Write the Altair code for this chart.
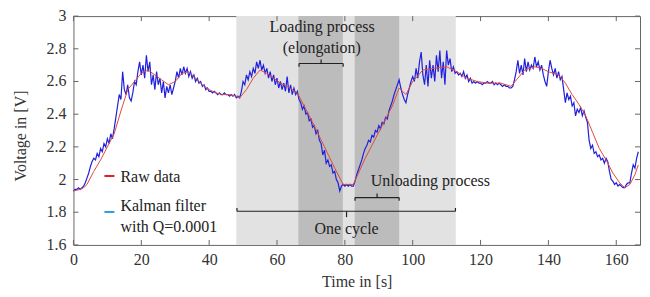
import altair as alt
import pandas as pd

# ---------------- data ----------------
# noisy (blue) trace, sampled every 0.5 s from t = 0 to 166.5 s
blue_step = 0.5
blue_v = [
    1.93, 1.94, 1.94, 1.95, 1.94, 1.95, 1.96, 1.98, 2.01, 2.04,
    2.08, 2.11, 2.13, 2.12, 2.16, 2.14, 2.19, 2.17, 2.22, 2.20,
    2.25, 2.22, 2.28, 2.25, 2.31, 2.38, 2.45, 2.52, 2.49, 2.66,
    2.55, 2.52, 2.58, 2.50, 2.48, 2.53, 2.60, 2.58, 2.66, 2.72,
    2.64, 2.70, 2.62, 2.76, 2.66, 2.72, 2.58, 2.64, 2.55, 2.66,
    2.58, 2.62, 2.53, 2.60, 2.50, 2.57, 2.53, 2.58, 2.52, 2.56,
    2.60, 2.66, 2.62, 2.68, 2.64, 2.69, 2.65, 2.68, 2.63, 2.66,
    2.62, 2.64, 2.60, 2.62, 2.59, 2.60, 2.57, 2.58, 2.55, 2.56,
    2.54, 2.54, 2.53, 2.54, 2.53, 2.52, 2.53, 2.52, 2.52, 2.53,
    2.52, 2.52, 2.51, 2.52, 2.51, 2.52, 2.50, 2.51, 2.50, 2.54,
    2.60, 2.58, 2.64, 2.61, 2.66, 2.63, 2.68, 2.65, 2.72, 2.68,
    2.73, 2.67, 2.70, 2.65, 2.68, 2.62, 2.66, 2.60, 2.64, 2.58,
    2.62, 2.56, 2.60, 2.55, 2.59, 2.54, 2.63, 2.53, 2.58, 2.52,
    2.56, 2.52, 2.54, 2.49, 2.47, 2.43, 2.45, 2.40, 2.41, 2.36,
    2.37, 2.32, 2.33, 2.28, 2.30, 2.24, 2.22, 2.15, 2.18, 2.10,
    2.12, 2.08, 2.09, 2.04, 2.05, 2.00, 1.98, 1.93, 1.96, 1.97,
    1.96, 1.97, 1.96, 1.97, 1.96, 1.96, 1.99, 2.03, 2.06, 2.09,
    2.12, 2.16, 2.19, 2.21, 2.24, 2.23, 2.27, 2.26, 2.30, 2.29,
    2.33, 2.31, 2.35, 2.34, 2.38, 2.37, 2.42, 2.45, 2.48, 2.52,
    2.55, 2.58, 2.61, 2.56, 2.52, 2.49, 2.47, 2.52, 2.56, 2.60,
    2.63, 2.60, 2.68, 2.62, 2.72, 2.78, 2.64, 2.58, 2.70, 2.57,
    2.73, 2.62, 2.70, 2.60, 2.76, 2.66, 2.79, 2.62, 2.72, 2.58,
    2.79, 2.70, 2.74, 2.66, 2.69, 2.65, 2.66, 2.64, 2.65, 2.63,
    2.66, 2.62, 2.64, 2.60, 2.62, 2.59, 2.60, 2.59, 2.60, 2.59,
    2.59, 2.58, 2.59, 2.59, 2.60, 2.59, 2.59, 2.60, 2.58, 2.59,
    2.58, 2.59, 2.58, 2.57, 2.58, 2.57, 2.57, 2.56, 2.56, 2.57,
    2.61, 2.66, 2.73, 2.65, 2.70, 2.64, 2.74, 2.66, 2.72, 2.67,
    2.70, 2.68, 2.75, 2.69, 2.72, 2.67, 2.70, 2.64, 2.60, 2.57,
    2.66, 2.73, 2.68, 2.64, 2.68, 2.62, 2.66, 2.61, 2.63, 2.55,
    2.47, 2.53, 2.49, 2.51, 2.45, 2.47, 2.39, 2.43, 2.41, 2.44,
    2.39, 2.42, 2.38, 2.35, 2.24, 2.19, 2.21, 2.16, 2.17, 2.14,
    2.15, 2.12, 2.13, 2.10, 2.13, 2.11, 2.05, 2.00, 1.99, 1.97,
    1.98, 1.96, 1.97, 1.96, 1.95, 1.95, 1.97, 1.98, 1.98, 2.04,
    2.09, 2.07, 2.13, 2.17,
]
blue_t = [i * blue_step for i in range(len(blue_v))]

# smooth (red) trace
red_t = [0, 2, 3, 4, 6, 8, 10, 12, 14, 16, 18, 20, 22, 24, 26, 28, 30, 32, 34,
         36, 38, 40, 42, 44, 46, 48, 49, 51, 53, 55, 57, 59, 61, 63, 66, 70, 74,
         77, 79.5, 82.5, 86, 90, 94, 96, 98, 100, 103, 106, 110, 113, 116, 119,
         122, 126, 129, 131, 133, 136, 138, 140, 143, 145, 147, 149, 151, 153,
         155, 157, 159, 161, 162.5, 164, 165.5, 166.5]
red_v = [1.93, 1.94, 1.95, 1.97, 2.05, 2.12, 2.20, 2.28, 2.42, 2.55, 2.60, 2.65,
         2.67, 2.64, 2.61, 2.58, 2.60, 2.65, 2.66, 2.62, 2.58, 2.55, 2.53, 2.52,
         2.52, 2.51, 2.50, 2.55, 2.62, 2.67, 2.65, 2.62, 2.59, 2.57, 2.53, 2.37,
         2.20, 2.07, 1.97, 1.97, 2.13, 2.29, 2.45, 2.56, 2.52, 2.60, 2.67, 2.68,
         2.69, 2.66, 2.62, 2.60, 2.59, 2.59, 2.57, 2.62, 2.67, 2.69, 2.68, 2.66,
         2.64, 2.59, 2.52, 2.46, 2.39, 2.29, 2.19, 2.12, 2.04, 1.98, 1.95, 1.97,
         2.03, 2.09]

# shaded phases (s)
light_band = [48.0, 112.7]
dark_bands_start = [66.3, 82.9]
dark_bands_end = [79.4, 96.0]

x_ticks = [0, 20, 40, 60, 80, 100, 120, 140, 160]
y_ticks = [1.6, 1.8, 2.0, 2.2, 2.4, 2.6, 2.8, 3.0]
y_tick_labels = ["1.6", "1.8", "2", "2.2", "2.4", "2.6", "2.8", "3"]

# annotations
ann_text = ["Loading process", "(elongation)", "Unloading process", "One cycle"]
ann_t = [73.3, 73.2, 105.2, 80.5]
ann_v = [2.936, 2.806, 1.99, 1.70]

# brackets as segments (t, v) -> (t2, v2)
br_t = [66.5, 66.5, 79.5, 73.0,   83.0, 83.0, 96.0, 89.5,   48.2, 48.2, 112.6, 80.5]
br_v = [2.69, 2.71, 2.71, 2.71,   1.87, 1.89, 1.89, 1.89,   1.826, 1.806, 1.826, 1.806]
br_t2 = [66.5, 79.5, 79.5, 73.0,  83.0, 96.0, 96.0, 89.5,   48.2, 112.6, 112.6, 80.5]
br_v2 = [2.71, 2.71, 2.69, 2.735, 1.89, 1.89, 1.87, 1.915,  1.806, 1.806, 1.806, 1.77]

legend_labels = ["Raw data", "Kalman filter", "with Q=0.0001"]

# ---------------- chart ----------------
W, H = 567, 229
FONT = ("Liberation Serif, DejaVu Serif, Noto Serif, Noto Serif CJK SC, "
        "Times New Roman, Times, serif")

xs = alt.Scale(domain=[0, 167], nice=False, zero=False)
ys = alt.Scale(domain=[1.6, 3.0], nice=False, zero=False)

blue_df = pd.DataFrame({"t": blue_t, "v": blue_v})
red_df = pd.DataFrame({"t": red_t, "v": red_v})
light_df = pd.DataFrame({"t": [light_band[0]], "t2": [light_band[1]]})
dark_df = pd.DataFrame({"t": dark_bands_start, "t2": dark_bands_end})
ann_df = pd.DataFrame({"t": ann_t, "v": ann_v, "label": ann_text})
br_df = pd.DataFrame({"t": br_t, "v": br_v, "t2": br_t2, "v2": br_v2})
xt_df = pd.DataFrame({"t": x_ticks})
yt_df = pd.DataFrame({"v": y_ticks, "label": y_tick_labels})
one_df = pd.DataFrame({"k": [0]})

X = alt.X("t:Q", scale=xs, axis=alt.Axis(
    values=x_ticks, format="d", title="Time in [s]", titlePadding=6,
    labelOverlap=False, labelBound=False, labelFlush=False))
Xs = alt.X("t:Q", scale=xs)
Ys = alt.Y("v:Q", scale=ys, axis=None)

light = alt.Chart(light_df).mark_rect(color="#e2e2e2").encode(x=X, x2="t2:Q")
dark = alt.Chart(dark_df).mark_rect(color="#bcbcbc").encode(x=Xs, x2="t2:Q")
blue_line = alt.Chart(blue_df).mark_line(color="#2020dd", strokeWidth=1.2).encode(
    x=Xs, y=Ys)
red_line = alt.Chart(red_df).mark_line(color="#e04a3a", strokeWidth=1).encode(
    x=Xs, y=Ys)

brackets = alt.Chart(br_df).mark_rule(color="#222", strokeWidth=1.2).encode(
    x=Xs, x2="t2:Q", y=Ys, y2="v2:Q")

ann = alt.Chart(ann_df).mark_text(font=FONT, fontSize=16, color="#222",
                                  baseline="middle", align="center").encode(
    x=Xs, y=Ys, text="label:N")

# inward tick marks on all four sides
tb = alt.Chart(xt_df).mark_rule(color="#666", strokeWidth=1).encode(
    x=Xs, y=alt.value(H), y2=alt.value(H - 5))
tt = alt.Chart(xt_df).mark_rule(color="#666", strokeWidth=1).encode(
    x=Xs, y=alt.value(0), y2=alt.value(5))
tl = alt.Chart(yt_df).mark_rule(color="#666", strokeWidth=1).encode(
    y=Ys, x=alt.value(0), x2=alt.value(5))
tr = alt.Chart(yt_df).mark_rule(color="#666", strokeWidth=1).encode(
    y=Ys, x=alt.value(W), x2=alt.value(W - 5))

# y tick labels and title, placed through the y scale
ylab = alt.Chart(yt_df).mark_text(font=FONT, fontSize=16, color="#333",
                                  align="right", baseline="middle").encode(
    y=Ys, x=alt.value(-7), text="label:N")
ytitle = alt.Chart(one_df).mark_text(font=FONT, fontSize=16, color="#333",
                                     align="center", baseline="middle",
                                     angle=270).encode(
    x=alt.value(-52), y=alt.value(120), text=alt.value("Voltage in [V]"))

# legend (hand-drawn inside the plot)
leg_red = alt.Chart(one_df).mark_rule(color="#e02020", strokeWidth=2).encode(
    x=alt.value(31), x2=alt.value(41), y=alt.value(160))
leg_blue = alt.Chart(one_df).mark_rule(color="#2a9fd6", strokeWidth=2).encode(
    x=alt.value(31), x2=alt.value(41), y=alt.value(196))
leg_texts = [
    alt.Chart(one_df).mark_text(font=FONT, fontSize=16, color="#222",
                                align="left", baseline="middle").encode(
        x=alt.value(47), y=alt.value(py), text=alt.value(lbl))
    for lbl, py in zip(legend_labels, [161, 190, 211])
]

chart = alt.layer(
    light, dark, blue_line, red_line, brackets, ann, tb, tt, tl, tr,
    ylab, ytitle, leg_red, leg_blue, *leg_texts,
).properties(
    width=W, height=H,
    padding={"left": 65.5, "top": 8, "right": 2, "bottom": 50},
    autosize=alt.AutoSizeParams(type="none"),
).configure_view(
    stroke="#666", strokeWidth=1
).configure_axis(
    ticks=False, domain=False, grid=False,
    labelFont=FONT, labelFontSize=16, labelColor="#333",
    labelOverlap=False, labelBound=False, labelFlush=False, labelPadding=7,
    titleFont=FONT, titleFontSize=16, titleFontWeight="normal", titleColor="#333",
).configure_text(font=FONT)

chart.save("out.html", embed_options={"renderer": "svg", "actions": False})
